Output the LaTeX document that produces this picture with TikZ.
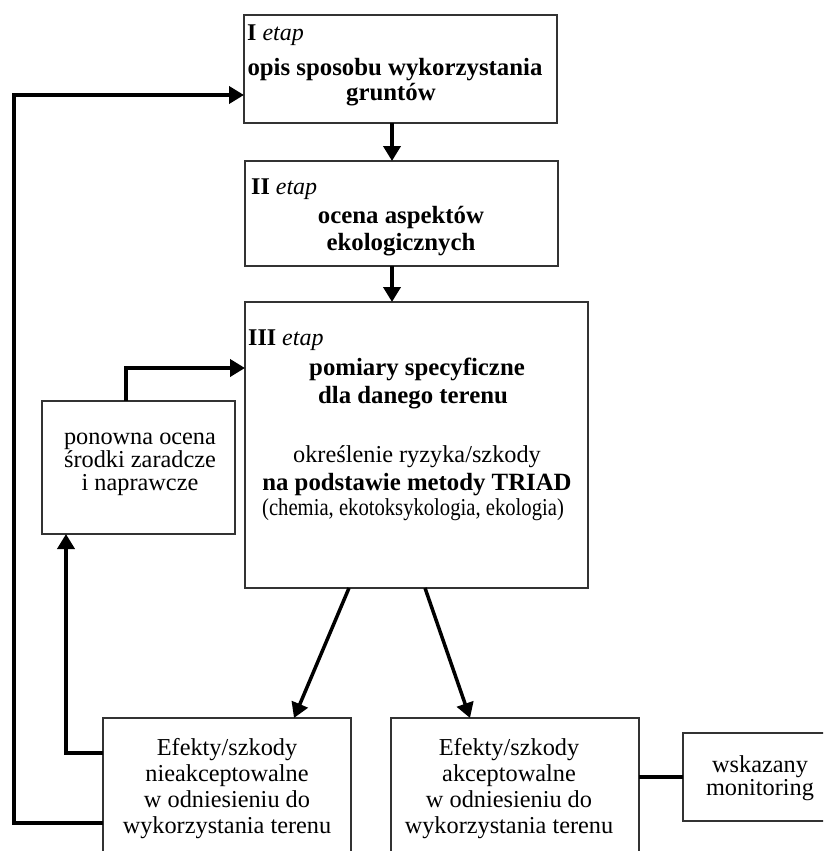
\documentclass[tikz,border=0pt]{standalone}
\usepackage{fontspec}
\setmainfont{Liberation Serif}
\usepackage{graphicx}
\usetikzlibrary{arrows.meta,calc}
\begin{document}
\begin{tikzpicture}[x=1pt,y=-1pt,
  box/.style={draw=black!80,line width=1.4pt,rectangle,inner sep=0pt,outer sep=0pt,anchor=north west},
  arr/.style={line width=4pt,-{Triangle[length=15pt,width=17pt]}},
  thk/.style={line width=4.5pt},
  rg/.style={inner sep=0pt,anchor=base,font=\fontsize{24.3}{26}\selectfont},
  bd/.style={inner sep=0pt,anchor=base,font=\fontsize{24.8}{28}\selectfont\bfseries},
  hdr/.style={inner sep=0pt,anchor=base west,font=\fontsize{24}{26}\selectfont},
]
\useasboundingbox (0,0) rectangle (823,851);
\fill[white] (0,0) rectangle (823,851);
\clip (0,0) rectangle (823,851);

% boxes
\node[box,minimum width=313pt,minimum height=108pt] (b1) at (244,15) {};
\node[box,minimum width=313pt,minimum height=105pt] (b2) at (245,161) {};
\node[box,minimum width=343pt,minimum height=286pt] (b3) at (245,302) {};
\node[box,minimum width=193pt,minimum height=133pt] (bp) at (42,401) {};
\node[box,minimum width=248pt,minimum height=150pt] (bl) at (103,718) {};
\node[box,minimum width=248pt,minimum height=150pt] (br) at (391,718) {};
\node[box,minimum width=154pt,minimum height=88pt] (bm) at (683,733) {};

% texts box I
\node[hdr] (h1) at (247,41) {\textbf{I} \textit{etap}};
\node[bd] (t1a) at (395,75) {opis sposobu wykorzystania};
\node[bd] (t1b) at (391,100) {gruntów};
% box II
\node[hdr] (h2) at (251,194) {\textbf{II} \textit{etap}};
\node[bd] (t2a) at (401,223) {ocena aspektów};
\node[bd] (t2b) at (401,250) {ekologicznych};
% box III
\node[hdr] (h3) at (248,345) {\textbf{III} \textit{etap}};
\node[bd] (t3a) at (417,375) {pomiary specyficzne};
\node[bd] (t3b) at (413,403) {dla danego terenu};
\node[rg] (t3c) at (417,462) {określenie ryzyka/szkody};
\node[bd] (t3d) at (417,490) {na podstawie metody TRIAD};
\node[rg] (t3e) at (413,515) {\scalebox{0.85}[1]{(chemia, ekotoksykologia, ekologia)}};
% ponowna
\node[rg] (tpa) at (140,444) {ponowna ocena};
\node[rg] (tpb) at (140,467) {środki zaradcze};
\node[rg] (tpc) at (140,490) {i naprawcze};
% bottom left
\node[rg] (tla) at (227,755) {Efekty/szkody};
\node[rg] (tlb) at (227,781) {nieakceptowalne};
\node[rg] (tlc) at (227,807) {w odniesieniu do};
\node[rg] (tld) at (227,833) {wykorzystania terenu};
% bottom right
\node[rg] (tra) at (509,755) {Efekty/szkody};
\node[rg] (trb) at (509,781) {akceptowalne};
\node[rg] (trc) at (509,807) {w odniesieniu do};
\node[rg] (trd) at (509,833) {wykorzystania terenu};
% monitoring
\node[rg] (tma) at (760,772) {wskazany};
\node[rg] (tmb) at (760,795) {monitoring};

% connectors
\draw[arr] ([xshift=-8.5pt]b1.south) -- ([xshift=-8.5pt]b1.south |- b2.north);
\draw[arr] ([xshift=-9.5pt]b2.south) -- ([xshift=-9.5pt]b2.south |- b3.north);
\draw[arr,line width=3.5pt] ([xshift=-67.5pt]b3.south) -- ([xshift=67pt]bl.north);
\draw[arr,line width=3.5pt] ([xshift=8.5pt]b3.south) -- ([xshift=-45pt]br.north);
\draw[thk] (bm.west) -- (bm.west -| br.east);
\draw[arr] ([yshift=-35pt]bl.north west) -| ([xshift=-72.5pt]bp.south);
\draw[arr] ([xshift=-12.5pt]bp.north) |- ([yshift=-66pt]b3.north west);
\coordinate (loopx) at (14,0);
\coordinate (b1in) at ([yshift=-80pt]b1.north west);
\draw[arr,line width=4.5pt] ([yshift=-105pt]bl.north west) -| (loopx |- b1in) -- (b1in);
\end{tikzpicture}
\end{document}
